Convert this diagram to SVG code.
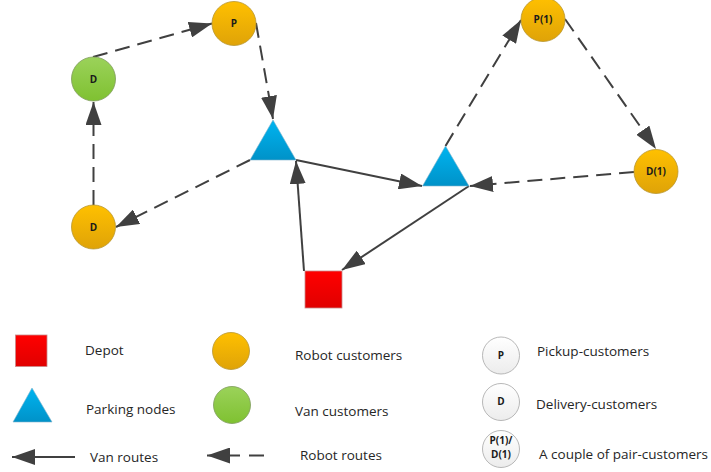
<svg xmlns="http://www.w3.org/2000/svg" width="711" height="472" viewBox="0 0 711 472">
<style>
.t{font-family:"Open Sans","Noto Sans","Liberation Sans",sans-serif;font-size:13.500px;fill:#262626}
.n{font-family:"Open Sans","Noto Sans","Liberation Sans",sans-serif;font-size:10px;font-weight:700;fill:#1a1a1a;text-anchor:middle}
.o{fill:url(#go);stroke:#b8962e;stroke-width:.8}
.g{fill:url(#gg);stroke:#7d9a5a;stroke-width:.8}
.w{fill:url(#gw);stroke:#a6a6a6;stroke-width:.8}
.b{fill:url(#gb);stroke:#7fb4cc;stroke-width:.6}
.r{fill:url(#gr);stroke:#c98a8a;stroke-width:.8}
.s{fill:none;stroke:#404040;stroke-width:2;marker-end:url(#a)}
.d{stroke-dasharray:15 8}
</style>
<defs>
<linearGradient id="go" x1="0" y1="0" x2="0" y2="1"><stop offset="0" stop-color="#ffc000"/><stop offset="1" stop-color="#dfa308"/></linearGradient>
<linearGradient id="gg" x1="0" y1="0" x2="0" y2="1"><stop offset="0" stop-color="#9bd25a"/><stop offset="1" stop-color="#7fc131"/></linearGradient>
<linearGradient id="gw" x1="0" y1="0" x2="0" y2="1"><stop offset="0" stop-color="#ffffff"/><stop offset="1" stop-color="#ececec"/></linearGradient>
<linearGradient id="gb" x1="0" y1="0" x2="0" y2="1"><stop offset="0" stop-color="#00b4f0"/><stop offset="1" stop-color="#0092c8"/></linearGradient>
<linearGradient id="gr" x1="0" y1="0" x2="0" y2="1"><stop offset="0" stop-color="#ff0000"/><stop offset="1" stop-color="#e00000"/></linearGradient>
<marker id="a" markerUnits="userSpaceOnUse" markerWidth="24" markerHeight="16" refX="23" refY="8" orient="auto"><path d="M0 0L23 8L0 16L0 0Z" fill="#404040"/></marker>
</defs>
<g id="connectors">
<path class="s d" d="M93 57L212 23.500"/>
<path class="s d" d="M256 23L273 119"/>
<path class="s d" d="M93.500 205L93.500 102"/>
<path class="s d" d="M250 160L116 227"/>
<path class="s" d="M304 271L296 161"/>
<path class="s" d="M296 160L422 186"/>
<path class="s" d="M469 186L342 270"/>
<path class="s d" d="M634 172L470 186"/>
<path class="s d" d="M445.500 146L521 20"/>
<path class="s d" d="M565 19L656 149"/>
<path class="s" d="M75 457L12 457"/>
<path class="s" style="stroke-dasharray:15 9 33 100" d="M264 455.500L207 455.500"/>
</g>
<g id="node-p"><circle class="o" cx="234" cy="23.500" r="22"/><text class="n" x="234" y="27">P</text></g>
<g id="node-d-green"><circle class="g" cx="93.500" cy="79" r="22"/><text class="n" x="93.500" y="83">D</text></g>
<g id="node-d"><circle class="o" cx="93.500" cy="227" r="22"/><text class="n" x="93.500" y="231">D</text></g>
<g id="node-p1"><circle class="o" cx="543" cy="19.500" r="22"/><text class="n" x="543" y="23">P(1)</text></g>
<g id="node-d1"><circle class="o" cx="656" cy="171.500" r="22"/><text class="n" x="656" y="175">D(1)</text></g>
<g id="parking-1"><path class="b" d="M273 120L296 160L250 160Z"/></g>
<g id="parking-2"><path class="b" d="M445.500 146L469 186L422.500 186Z"/></g>
<g id="depot"><rect class="r" x="305" y="271" width="37" height="37"/></g>
<g id="legend-depot"><rect class="r" x="15.500" y="335" width="31.500" height="31.500"/><text class="t" x="85" y="355">Depot</text></g>
<g id="legend-parking"><path class="b" d="M32 388L52 422L13 422Z"/><text class="t" x="86" y="414">Parking nodes</text></g>
<g id="legend-robot"><circle class="o" cx="231" cy="351" r="18.500"/><text class="t" x="295" y="360">Robot customers</text></g>
<g id="legend-van"><circle class="g" cx="232" cy="405" r="18.500"/><text class="t" x="295" y="416">Van customers</text></g>
<g id="legend-van-routes"><text class="t" x="90" y="462">Van routes</text></g>
<g id="legend-robot-routes"><text class="t" x="300" y="460">Robot routes</text></g>
<g id="legend-pickup"><circle class="w" cx="501" cy="355.500" r="18.500"/><text class="n" x="501" y="359">P</text><text class="t" x="537" y="356">Pickup-customers</text></g>
<g id="legend-delivery"><circle class="w" cx="501" cy="402" r="18.500"/><text class="n" x="501" y="405">D</text><text class="t" x="536" y="409">Delivery-customers</text></g>
<g id="legend-pair"><circle class="w" cx="501" cy="449" r="18.500"/><text class="n" x="501" y="444">P(1)/</text><text class="n" x="501" y="458">D(1)</text><text class="t" x="539" y="459">A couple of pair-customers</text></g>
</svg>
